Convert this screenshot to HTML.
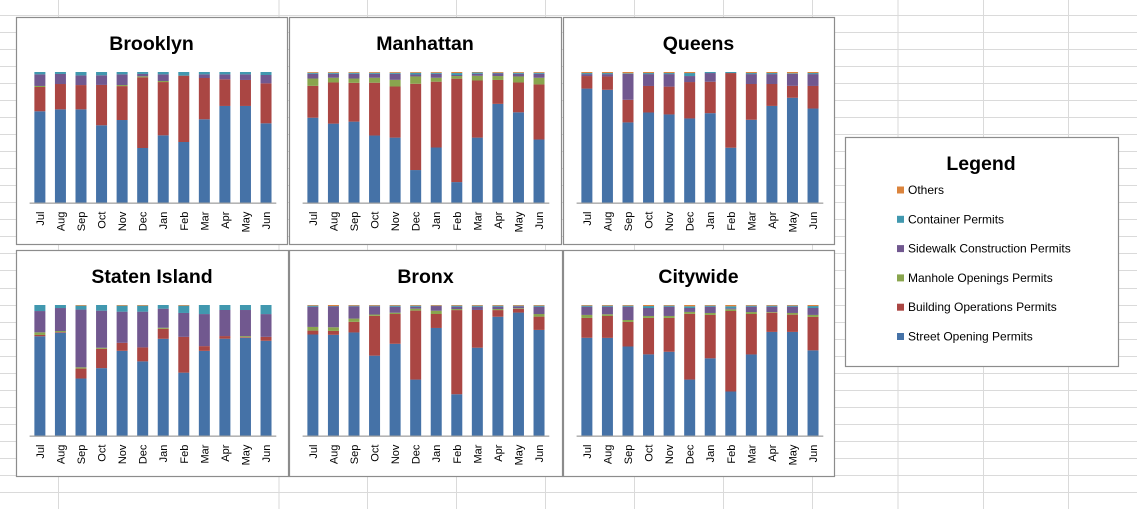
<!DOCTYPE html>
<html><head><meta charset="utf-8">
<style>
html,body{margin:0;padding:0;background:#fff;}
body{width:1137px;height:509px;overflow:hidden;position:relative;font-family:"Liberation Sans",sans-serif;}
svg{position:absolute;left:0;top:0;}
</style></head>
<body>
<svg id="chart" width="1137" height="509" viewBox="0 0 1137 509" xmlns="http://www.w3.org/2000/svg">
<g id="grid"></g>
<g id="panels"></g>
<g id="legend"></g>
</svg>
<script>
const months = ["Jul","Aug","Sep","Oct","Nov","Dec","Jan","Feb","Mar","Apr","May","Jun"];
const seriesNames = ["Street Opening Permits","Building Operations Permits","Manhole Openings Permits","Sidewalk Construction Permits","Container Permits","Others"];
const seriesColors = ["#4572A7","#AA4643","#89A54E","#71588F","#4198AF","#DB843D"];

const brooklynStreet   = [70,71.4,71.4,59.2,63.3,41.8,51.5,46.4,63.8,74,74,60.7];
const brooklynBuilding = [18.6,19.4,18.6,30.9,26,54.1,40.8,50.8,31.6,20.4,19.9,30.6];
const brooklynManhole  = [0.8,0,0,0,0.8,0.8,0.8,0,0,0,0,0];
const brooklynSidewalk = [8.9,7.7,7.4,7.4,8.2,1.8,5.1,0,2.8,3.8,4.3,6.4];
const brooklynContainer= [1.8,1.5,2.6,2.5,1.8,1.5,1.8,2.8,1.8,1.8,1.8,2.3];
const brooklynOthers   = [0,0,0,0,0,0,0,0,0,0,0,0];

const manhattanStreet   = [65,60.4,62,51.3,49.7,24.9,42.1,15.7,49.7,75.6,69,48.2];
const manhattanBuilding = [24.4,31.5,29.7,40.4,39.1,66,50.3,79.2,43.7,18.3,22.8,42.1];
const manhattanManhole  = [5.6,3.6,3.3,3.8,5.1,5.6,3,2,3.6,3,4.6,5.1];
const manhattanSidewalk = [3.6,3,3.6,3,4.6,1.5,3,0.8,1.5,2,2,3];
const manhattanContainer= [0.8,0.8,0.8,0.8,0.8,1.3,0.8,1.5,1,0.5,0.8,0.8];
const manhattanOthers   = [0.6,0.6,0.6,0.6,0.6,0.6,0.6,0.8,0.4,0.6,0.6,0.6];

const queensStreet   = [87.3,86.3,61.4,69,67.5,64.5,68,41.6,63.5,74.1,80.2,72.1];
const queensBuilding = [9.6,10.2,17.3,20.3,21.3,27.9,23.9,56.6,27.4,16.8,9.1,17.3];
const queensManhole  = [0,0,0,0,0,0,0,0,0,0,0,0];
const queensSidewalk = [1.5,1.8,19.8,9.1,9.6,4.6,6.6,0,7.6,7.6,9.1,9.1];
const queensContainer= [0.8,0.8,0.5,0.8,0.8,2.3,0.8,0.8,0.8,0.8,0.5,0.8];
const queensOthers   = [0.8,0.8,1,0.8,0.8,0.8,0,0,0.8,0.8,1,0.8];

const statenStreet   = [75.6,78.2,43.7,51.3,65,56.9,73.6,48.2,64.5,73.6,74.1,72.1];
const statenBuilding = [1,0.5,7.6,14.7,6.1,10.7,7.6,27.4,3.6,2,0.5,3];
const statenManhole  = [2,0.8,1,0.8,0,0,0.8,0,0,0,0.8,0];
const statenSidewalk = [16.2,17.5,44.2,28.2,23.9,27.4,14.5,18.3,24.4,19.8,19.8,17.3];
const statenContainer= [4.6,2.3,3,4.3,4.6,4.6,2.8,5.6,6.9,3.8,3.8,6.9];
const statenOthers   = [0,0,0.5,0,0.5,0.5,0,0.5,0,0,0,0];

const bronxStreet   = [77.4,77.4,78.9,61.2,70.3,42.9,82.5,31.7,67.3,91.1,94.2,81];
const bronxBuilding = [3,3,8.1,30.5,22.8,52.8,10.7,64.5,28.9,5.1,2.8,10.2];
const bronxManhole  = [2.8,2.8,2.5,1,1,1.5,2.5,0.8,0,0.8,0.5,2];
const bronxSidewalk = [15.5,16,9.4,6.3,4.6,1.5,3.6,1.8,2.5,1.8,1.5,5.6];
const bronxContainer= [0.8,0.3,0.5,0.5,0.8,0.8,0.3,0.8,0.8,0.8,0.5,0.8];
const bronxOthers   = [0.5,0.8,0.5,0.5,0.5,0.5,0.5,0.5,0.5,0.5,0.5,0.5];

const citywideStreet   = [74.9,74.9,68.3,62.2,64.2,42.9,59.1,33.8,62.2,79.4,79.4,65.2];
const citywideBuilding = [15.2,16.8,18.8,27.9,25.9,50.3,33.2,61.7,31,14.7,13.2,25.6];
const citywideManhole  = [2.3,1.3,1.5,1.5,1.5,1.5,1.5,1.3,1.5,0.5,1.3,1.5];
const citywideSidewalk = [6.3,5.8,10.2,6.1,7.1,3,4.8,0.8,4.1,4.1,4.8,5.3];
const citywideContainer= [0.8,0.8,0.8,1.5,0.8,1.3,0.8,1.5,0.8,0.8,0.8,1.5];
const citywideOthers   = [0.5,0.5,0.5,0.8,0.5,1,0.5,1,0.5,0.5,0.5,0.8];

const NS = "http://www.w3.org/2000/svg";
function mk(tag, attrs, parent){
  const e = document.createElementNS(NS, tag);
  for (const k in attrs) e.setAttribute(k, attrs[k]);
  parent.appendChild(e);
  return e;
}

const grid = document.getElementById('grid');
const colXs = [58,278.5,367,456,545,634,723,812,897.5,983,1068];
for (const x of colXs){
  const l = mk('line',{x1:x+0.5,y1:0,x2:x+0.5,y2:509,stroke:'#dadada','stroke-width':1},grid);
  
  
}
for (let y=14.7; y<509; y+=17.05){
  const l = mk('line',{x1:0,y1:Math.round(y)+0.5,x2:1137,y2:Math.round(y)+0.5,stroke:'#dadada','stroke-width':1},grid);
  
  
}

const panels = [
  {name:"Brooklyn", x:16, y:17, w:271, h:227, s:[brooklynStreet,brooklynBuilding,brooklynManhole,brooklynSidewalk,brooklynContainer,brooklynOthers]},
  {name:"Manhattan", x:289, y:17, w:272, h:227, s:[manhattanStreet,manhattanBuilding,manhattanManhole,manhattanSidewalk,manhattanContainer,manhattanOthers]},
  {name:"Queens", x:563, y:17, w:271, h:227, s:[queensStreet,queensBuilding,queensManhole,queensSidewalk,queensContainer,queensOthers]},
  {name:"Staten Island", x:16, y:250, w:272, h:226, s:[statenStreet,statenBuilding,statenManhole,statenSidewalk,statenContainer,statenOthers]},
  {name:"Bronx", x:289, y:250, w:273, h:226, s:[bronxStreet,bronxBuilding,bronxManhole,bronxSidewalk,bronxContainer,bronxOthers]},
  {name:"Citywide", x:563, y:250, w:271, h:226, s:[citywideStreet,citywideBuilding,citywideManhole,citywideSidewalk,citywideContainer,citywideOthers]}
];

const root = document.getElementById('panels');
for (const p of panels){
  const slug = p.name.toLowerCase().replace(/ /g,'-');
  const g = mk('g',{},root);
  
  
  const box = mk('rect',{x:p.x+0.5,y:p.y+0.5,width:p.w,height:p.h,fill:'#fff',stroke:'#8c8c8c','stroke-width':1.2},g);
  
  
  const t = mk('text',{x:p.x+p.w/2,y:p.y+33,'text-anchor':'middle','font-size':19.5,'font-weight':'bold',fill:'#000','font-family':'"Liberation Sans",sans-serif'},g);
  t.textContent = p.name;
  
  

  const plotL = p.x+13.6, plotW = 246.7, plotT = p.y+55, plotB = p.y+185.6;
  const band = plotW/months.length;
  const xScale = i => plotL + band*i + band/2;
  const yScale = frac => plotB - frac*(plotB-plotT);

  for (let i=0;i<months.length;i++){
    let total = 0;
    for (const arr of p.s) total += arr[i];
    let cum = 0;
    for (let k=0;k<p.s.length;k++){
      const v = p.s[k][i];
      if (v<=0) continue;
      const y0 = yScale(cum/total), y1 = yScale((cum+v)/total);
      cum += v;
      const r = mk('rect',{x:xScale(i)-5.5,y:y1,width:11,height:y0-y1,fill:seriesColors[k]},g);
      
      
    }
    const lx = xScale(i)+4, ly = plotB+9;
    const lbl = mk('text',{x:lx,y:ly,'text-anchor':'end','font-size':11,fill:'#000',transform:'rotate(-90 '+lx+' '+ly+')','font-family':'"Liberation Sans",sans-serif'},g);
    lbl.textContent = months[i];
    
    
  }
  const ax = mk('line',{x1:plotL,y1:plotB+0.5,x2:plotL+plotW,y2:plotB+0.5,stroke:'#868686','stroke-width':1},g);
  
  
}

const lg = document.getElementById('legend');
const lbox = mk('rect',{x:845.5,y:137.5,width:273,height:229,fill:'#fff',stroke:'#8c8c8c','stroke-width':1.2},lg);


const lt = mk('text',{x:981,y:170,'text-anchor':'middle','font-size':19.5,'font-weight':'bold',fill:'#000','font-family':'"Liberation Sans",sans-serif'},lg);
lt.textContent = 'Legend';


for (let k=0;k<seriesNames.length;k++){
  const idx = seriesNames.length-1-k;
  const cy = 190 + k*29.3;
  const sq = mk('rect',{x:897,y:cy-3.5,width:7,height:7,fill:seriesColors[idx]},lg);
  
  
  const tx = mk('text',{x:908,y:cy+4,'font-size':12,fill:'#000','font-family':'"Liberation Sans",sans-serif'},lg);
  tx.textContent = seriesNames[idx];
  
  
}
</script>
</body></html>
